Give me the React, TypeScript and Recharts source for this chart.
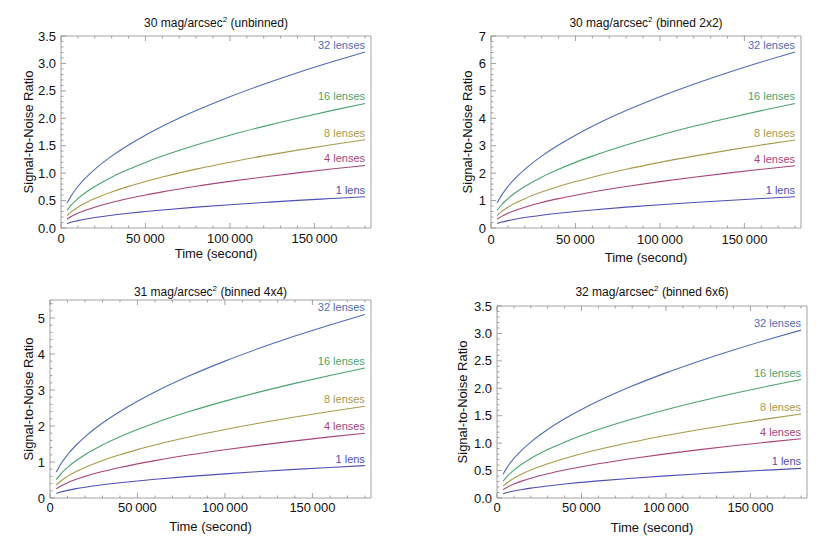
import { LineChart, Line, XAxis, YAxis } from 'recharts';

// exposure time (s)
const times = [3600, 6000, 10000, 15000, 20000, 30000, 40000, 50000, 60000, 80000, 100000, 120000, 140000, 160000, 180000];

const seriesNames = ['1 lens', '4 lenses', '8 lenses', '16 lenses', '32 lenses'];
const seriesKeys = ['s1', 's4', 's8', 's16', 's32'];
const seriesColors = ['#4f4fb5', '#a8457a', '#a99a4c', '#4aa46e', '#4f6cb6'];

const xMajor = [0, 50000, 100000, 150000];

// 30 mag/arcsec^2 unbinned
const unbinned1 = [0.081, 0.104, 0.134, 0.165, 0.190, 0.233, 0.269, 0.300, 0.329, 0.380, 0.425, 0.465, 0.503, 0.537, 0.570];
const unbinned4 = [0.161, 0.208, 0.269, 0.329, 0.380, 0.465, 0.537, 0.601, 0.658, 0.760, 0.850, 0.931, 1.005, 1.075, 1.140];
const unbinned8 = [0.228, 0.294, 0.379, 0.465, 0.537, 0.657, 0.759, 0.848, 0.930, 1.073, 1.200, 1.315, 1.420, 1.518, 1.610];
const unbinned16 = [0.321, 0.415, 0.535, 0.655, 0.757, 0.927, 1.070, 1.196, 1.311, 1.513, 1.692, 1.853, 2.002, 2.140, 2.270];
const unbinned32 = [0.454, 0.586, 0.757, 0.927, 1.070, 1.310, 1.513, 1.692, 1.853, 2.140, 2.393, 2.621, 2.831, 3.026, 3.210];

// 30 mag/arcsec^2 binned 2x2
const bin2_1 = [0.161, 0.208, 0.269, 0.329, 0.380, 0.465, 0.537, 0.601, 0.658, 0.760, 0.850, 0.931, 1.005, 1.075, 1.140];
const bin2_4 = [0.321, 0.415, 0.535, 0.655, 0.757, 0.927, 1.070, 1.196, 1.311, 1.513, 1.692, 1.853, 2.002, 2.140, 2.270];
const bin2_8 = [0.454, 0.586, 0.757, 0.927, 1.070, 1.310, 1.513, 1.692, 1.853, 2.140, 2.393, 2.621, 2.831, 3.026, 3.210];
const bin2_16 = [0.642, 0.829, 1.070, 1.311, 1.513, 1.853, 2.140, 2.393, 2.621, 3.027, 3.384, 3.707, 4.004, 4.280, 4.540];
const bin2_32 = [0.908, 1.172, 1.513, 1.853, 2.140, 2.621, 3.026, 3.383, 3.707, 4.280, 4.785, 5.242, 5.662, 6.053, 6.420];

// 31 mag/arcsec^2 binned 4x4
const bin4_1 = [0.127, 0.164, 0.212, 0.260, 0.300, 0.367, 0.424, 0.474, 0.520, 0.600, 0.671, 0.735, 0.794, 0.849, 0.900];
const bin4_4 = [0.255, 0.329, 0.424, 0.520, 0.600, 0.735, 0.849, 0.949, 1.039, 1.200, 1.342, 1.470, 1.587, 1.697, 1.800];
const bin4_8 = [0.361, 0.466, 0.601, 0.736, 0.850, 1.041, 1.202, 1.344, 1.472, 1.700, 1.901, 2.082, 2.249, 2.404, 2.550];
const bin4_16 = [0.510, 0.659, 0.851, 1.042, 1.203, 1.474, 1.702, 1.902, 2.084, 2.407, 2.691, 2.948, 3.184, 3.404, 3.610];
const bin4_32 = [0.721, 0.931, 1.202, 1.472, 1.700, 2.082, 2.404, 2.688, 2.945, 3.400, 3.802, 4.164, 4.498, 4.808, 5.100];

// 32 mag/arcsec^2 binned 6x6
const bin6_1 = [0.076, 0.099, 0.127, 0.156, 0.180, 0.220, 0.255, 0.285, 0.312, 0.360, 0.403, 0.441, 0.476, 0.509, 0.540];
const bin6_4 = [0.153, 0.197, 0.255, 0.312, 0.360, 0.441, 0.509, 0.569, 0.624, 0.720, 0.805, 0.882, 0.952, 1.018, 1.080];
const bin6_8 = [0.216, 0.279, 0.361, 0.442, 0.510, 0.625, 0.721, 0.806, 0.883, 1.020, 1.140, 1.249, 1.349, 1.443, 1.530];
const bin6_16 = [0.305, 0.394, 0.509, 0.624, 0.720, 0.882, 1.018, 1.138, 1.247, 1.440, 1.610, 1.764, 1.905, 2.036, 2.160];
const bin6_32 = [0.433, 0.559, 0.721, 0.883, 1.020, 1.249, 1.443, 1.613, 1.767, 2.040, 2.281, 2.498, 2.699, 2.885, 3.060];

const FONT = '"Liberation Sans", Arial, Helvetica, sans-serif';
const FRAME = '#8c8c8c';
const W = 830;
const H = 554;

type Frame = { left: number; top: number; right: number; bottom: number };

function buildRows(cols: number[][]) {
  return times.map((t, i) => {
    const row: Record<string, number> = { t };
    seriesKeys.forEach((k, j) => {
      row[k] = cols[j][i];
    });
    return row;
  });
}

function range(step: number, max: number) {
  const out: number[] = [];
  for (let i = 0; i * step <= max + 1e-9; i++) out.push(Math.round(i * step * 1000) / 1000);
  return out;
}

function isMajor(v: number, majors: number[]) {
  return majors.some((m) => Math.abs(m - v) < 1e-6);
}

function fmtTime(v: number) {
  if (v === 0) return '0';
  const s = String(v);
  return s.slice(0, s.length - 3) + '\u2009' + s.slice(-3);
}

type PanelProps = {
  frame: Frame;
  cols: number[][];
  yMax: number;
  yMajor: number[];
  yMinorStep: number;
  decimals: number;
  mag: string;
  mode: string;
  titleY: number;
  yLabelX: number;
  xLabelY: number;
  tickDy: number;
};

function Panel(p: PanelProps) {
  const { frame } = p;
  const rows = buildRows(p.cols);
  const xTicks = range(10000, 180000);
  const yTicks = range(p.yMinorStep, p.yMax);
  const lastIdx = times.length - 1;

  const bottomTick = (props: any) => {
    const x = props.x;
    const v = props.payload.value;
    const major = isMajor(v, xMajor);
    return (
      <g>
        <line x1={x} x2={x} y1={frame.bottom} y2={frame.bottom - (major ? 5 : 2.5)} stroke={FRAME} strokeWidth={0.8} />
        {major && (
          <text x={x} y={frame.bottom + p.tickDy} textAnchor="middle" fontSize={13} fontFamily={FONT} fill="#111">
            {fmtTime(v)}
          </text>
        )}
      </g>
    );
  };

  const topTick = (props: any) => {
    const x = props.x;
    const major = isMajor(props.payload.value, xMajor);
    return <line x1={x} x2={x} y1={frame.top} y2={frame.top + (major ? 5 : 2.5)} stroke={FRAME} strokeWidth={0.8} />;
  };

  const leftTick = (props: any) => {
    const y = props.y;
    const v = props.payload.value;
    const major = isMajor(v, p.yMajor);
    return (
      <g>
        <line x1={frame.left} x2={frame.left + (major ? 5 : 2.5)} y1={y} y2={y} stroke={FRAME} strokeWidth={0.8} />
        {major && (
          <text x={frame.left - 5} y={y + 4.6} textAnchor="end" fontSize={13} fontFamily={FONT} fill="#111">
            {v.toFixed(p.decimals)}
          </text>
        )}
      </g>
    );
  };

  const rightTick = (props: any) => {
    const y = props.y;
    const major = isMajor(props.payload.value, p.yMajor);
    return <line x1={frame.right} x2={frame.right - (major ? 5 : 2.5)} y1={y} y2={y} stroke={FRAME} strokeWidth={0.8} />;
  };

  const endLabel = (name: string, color: string) => (props: any) => {
    if (props.index !== lastIdx) return null;
    return (
      <text x={props.x} y={props.y - 3} textAnchor="end" fontSize={11} fontFamily={FONT} fill={color}>
        {name}
      </text>
    );
  };

  const xDomain = [0, 183500];
  const axisLine = { stroke: FRAME, strokeWidth: 0.8 };
  const cx = (frame.left + frame.right) / 2;
  const cy = (frame.top + frame.bottom) / 2;

  return (
    <>
      <div style={{ position: 'absolute', left: 0, top: 0 }}>
        <LineChart
          width={W}
          height={H}
          data={rows}
          margin={{ left: frame.left - 30, right: W - frame.right - 1, top: frame.top - 1, bottom: H - frame.bottom - 20 }}
        >
          <XAxis
            xAxisId="b"
            dataKey="t"
            type="number"
            domain={xDomain}
            ticks={xTicks}
            interval={0}
            height={20}
            tick={bottomTick}
            tickLine={false}
            axisLine={axisLine}
          />
          <XAxis
            xAxisId="t"
            orientation="top"
            dataKey="t"
            type="number"
            domain={xDomain}
            ticks={xTicks}
            interval={0}
            height={1}
            tick={topTick}
            tickLine={false}
            axisLine={axisLine}
          />
          <YAxis
            yAxisId="l"
            type="number"
            domain={[0, p.yMax]}
            ticks={yTicks}
            interval={0}
            width={30}
            tick={leftTick}
            tickLine={false}
            axisLine={axisLine}
          />
          <YAxis
            yAxisId="r"
            orientation="right"
            type="number"
            domain={[0, p.yMax]}
            ticks={yTicks}
            interval={0}
            width={1}
            tick={rightTick}
            tickLine={false}
            axisLine={axisLine}
          />
          {seriesKeys.map((k, j) => (
            <Line
              key={k}
              xAxisId="b"
              yAxisId="l"
              type="monotone"
              dataKey={k}
              stroke={seriesColors[j]}
              strokeWidth={1.1}
              dot={false}
              activeDot={false}
              isAnimationActive={false}
              label={endLabel(seriesNames[j], seriesColors[j])}
            />
          ))}
        </LineChart>
      </div>
      <div
        style={{
          position: 'absolute',
          left: cx,
          top: p.titleY,
          transform: 'translate(-50%, -50%)',
          whiteSpace: 'nowrap',
          fontSize: 12,
          fontFamily: FONT,
          color: '#111',
          lineHeight: '14px',
        }}
      >
        {p.mag} mag/arcsec
        <sup style={{ fontSize: 8, verticalAlign: 'super', lineHeight: 0 }}>2</sup> ({p.mode})
      </div>
      <div
        style={{
          position: 'absolute',
          left: p.yLabelX,
          top: cy,
          transform: 'translate(-50%, -50%) rotate(-90deg)',
          whiteSpace: 'nowrap',
          fontSize: 13,
          fontFamily: FONT,
          color: '#111',
          lineHeight: '15px',
        }}
      >
        Signal-to-Noise Ratio
      </div>
      <div
        style={{
          position: 'absolute',
          left: cx,
          top: p.xLabelY,
          transform: 'translate(-50%, -50%)',
          whiteSpace: 'nowrap',
          fontSize: 13,
          fontFamily: FONT,
          color: '#111',
          lineHeight: '15px',
        }}
      >
        Time (second)
      </div>
    </>
  );
}

export default function App() {
  return (
    <div style={{ position: 'absolute', left: 0, top: 0, width: W, height: H, background: '#fff', overflow: 'hidden' }}>
      <Panel
        frame={{ left: 61, top: 36, right: 371, bottom: 228 }}
        cols={[unbinned1, unbinned4, unbinned8, unbinned16, unbinned32]}
        yMax={3.5}
        yMajor={[0, 0.5, 1, 1.5, 2, 2.5, 3, 3.5]}
        yMinorStep={0.1}
        decimals={1}
        mag="30"
        mode="unbinned"
        titleY={23}
        yLabelX={28}
        xLabelY={253}
        tickDy={14.5}
      />
      <Panel
        frame={{ left: 491, top: 36, right: 801, bottom: 228 }}
        cols={[bin2_1, bin2_4, bin2_8, bin2_16, bin2_32]}
        yMax={7}
        yMajor={[0, 1, 2, 3, 4, 5, 6, 7]}
        yMinorStep={0.2}
        decimals={0}
        mag="30"
        mode="binned 2x2"
        titleY={23}
        yLabelX={467}
        xLabelY={257}
        tickDy={16}
      />
      <Panel
        frame={{ left: 50, top: 300, right: 371, bottom: 498 }}
        cols={[bin4_1, bin4_4, bin4_8, bin4_16, bin4_32]}
        yMax={5.5}
        yMajor={[0, 1, 2, 3, 4, 5]}
        yMinorStep={0.2}
        decimals={0}
        mag="31"
        mode="binned 4x4"
        titleY={292}
        yLabelX={28}
        xLabelY={526}
        tickDy={13.5}
      />
      <Panel
        frame={{ left: 497, top: 306, right: 807, bottom: 498 }}
        cols={[bin6_1, bin6_4, bin6_8, bin6_16, bin6_32]}
        yMax={3.5}
        yMajor={[0, 0.5, 1, 1.5, 2, 2.5, 3, 3.5]}
        yMinorStep={0.1}
        decimals={1}
        mag="32"
        mode="binned 6x6"
        titleY={292}
        yLabelX={462}
        xLabelY={527}
        tickDy={13.5}
      />
    </div>
  );
}
